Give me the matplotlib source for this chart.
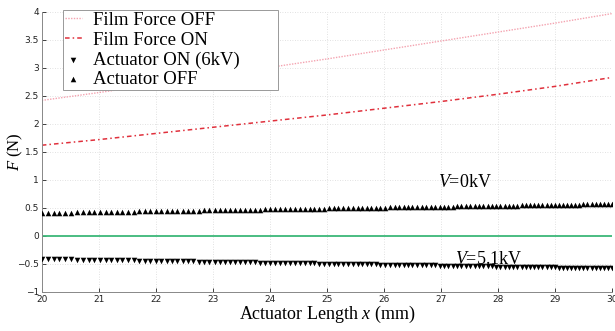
import matplotlib
matplotlib.use("Agg")
import matplotlib.pyplot as plt

# film force lines (N) read at integer lengths (mm)
film_x = [20, 21, 22, 23, 24, 25, 26, 27, 28, 29, 30]
film_off = [2.42, 2.56, 2.71, 2.86, 3.01, 3.16, 3.32, 3.48, 3.64, 3.80, 3.97]
film_on = [1.62, 1.72, 1.83, 1.94, 2.05, 2.16, 2.28, 2.40, 2.53, 2.67, 2.83]

# actuator measurement points (mm)
act_x = [
    20.00, 20.10, 20.21, 20.31, 20.41, 20.52, 20.62, 20.72, 20.82, 20.92,
    21.02, 21.12, 21.22, 21.32, 21.41, 21.51, 21.61, 21.71, 21.81, 21.90,
    22.00, 22.09, 22.19, 22.28, 22.37, 22.47, 22.56, 22.65, 22.75, 22.84,
    22.94, 23.03, 23.12, 23.21, 23.30, 23.39, 23.47, 23.56, 23.65, 23.74,
    23.83, 23.92, 24.01, 24.09, 24.18, 24.27, 24.35, 24.44, 24.53, 24.61,
    24.70, 24.78, 24.87, 24.95, 25.03, 25.12, 25.20, 25.29, 25.37, 25.45,
    25.54, 25.62, 25.70, 25.78, 25.86, 25.94, 26.02, 26.10, 26.19, 26.27,
    26.35, 26.42, 26.50, 26.58, 26.66, 26.74, 26.82, 26.90, 26.98, 27.05,
    27.13, 27.21, 27.28, 27.36, 27.44, 27.51, 27.59, 27.67, 27.74, 27.82,
    27.90, 27.97, 28.04, 28.12, 28.19, 28.27, 28.34, 28.42, 28.49, 28.56,
    28.64, 28.71, 28.78, 28.86, 28.93, 29.00, 29.07, 29.15, 29.22, 29.29,
    29.36, 29.43, 29.50, 29.57, 29.65, 29.72, 29.79, 29.86, 29.93, 30.00,
]
act_off = [
    0.410, 0.412, 0.413, 0.415, 0.417, 0.418, 0.420, 0.422, 0.423, 0.425,
    0.426, 0.428, 0.430, 0.431, 0.433, 0.434, 0.436, 0.437, 0.439, 0.440,
    0.442, 0.443, 0.445, 0.446, 0.448, 0.450, 0.451, 0.452, 0.454, 0.455,
    0.457, 0.458, 0.460, 0.461, 0.463, 0.464, 0.466, 0.467, 0.468, 0.470,
    0.471, 0.473, 0.474, 0.475, 0.477, 0.478, 0.480, 0.481, 0.482, 0.484,
    0.485, 0.486, 0.488, 0.489, 0.490, 0.492, 0.493, 0.495, 0.496, 0.497,
    0.499, 0.500, 0.501, 0.502, 0.504, 0.505, 0.506, 0.508, 0.509, 0.510,
    0.512, 0.513, 0.514, 0.515, 0.517, 0.518, 0.519, 0.520, 0.522, 0.523,
    0.524, 0.525, 0.527, 0.528, 0.529, 0.530, 0.531, 0.533, 0.534, 0.535,
    0.536, 0.538, 0.539, 0.540, 0.541, 0.542, 0.543, 0.545, 0.546, 0.547,
    0.548, 0.549, 0.551, 0.552, 0.553, 0.554, 0.555, 0.556, 0.558, 0.559,
    0.560, 0.561, 0.562, 0.563, 0.564, 0.566, 0.567, 0.568, 0.569, 0.570,
]
act_on = [
    -0.410, -0.412, -0.414, -0.415, -0.417, -0.419, -0.421, -0.422, -0.424, -0.426,
    -0.427, -0.429, -0.431, -0.432, -0.434, -0.436, -0.437, -0.439, -0.441, -0.442,
    -0.444, -0.446, -0.447, -0.449, -0.450, -0.452, -0.454, -0.455, -0.457, -0.458,
    -0.460, -0.462, -0.463, -0.465, -0.466, -0.468, -0.469, -0.471, -0.472, -0.474,
    -0.475, -0.477, -0.478, -0.480, -0.481, -0.483, -0.484, -0.486, -0.487, -0.488,
    -0.490, -0.491, -0.493, -0.494, -0.496, -0.497, -0.498, -0.500, -0.501, -0.503,
    -0.504, -0.506, -0.507, -0.508, -0.510, -0.511, -0.512, -0.514, -0.515, -0.517,
    -0.518, -0.519, -0.521, -0.522, -0.523, -0.525, -0.526, -0.527, -0.529, -0.530,
    -0.531, -0.533, -0.534, -0.535, -0.537, -0.538, -0.539, -0.540, -0.542, -0.543,
    -0.544, -0.546, -0.547, -0.548, -0.549, -0.551, -0.552, -0.553, -0.554, -0.556,
    -0.557, -0.558, -0.559, -0.561, -0.562, -0.563, -0.564, -0.566, -0.567, -0.568,
    -0.569, -0.570, -0.572, -0.573, -0.574, -0.575, -0.576, -0.578, -0.579, -0.580,
]

zero_x = [20, 30]
zero_y = [0, 0]

serif = "Liberation Serif"
plt.rcParams["mathtext.fontset"] = "custom"
plt.rcParams["mathtext.rm"] = serif
plt.rcParams["mathtext.it"] = serif + ":italic"

fig = plt.figure(figsize=(6.15, 3.31), dpi=100)
ax = fig.add_axes([0.068, 0.118, 0.927, 0.846])

ax.plot(film_x, film_off, linestyle=(0, (1, 1)), color="#f4a3b0", lw=1.0,
        label="Film Force OFF")
ax.plot(film_x, film_on, linestyle=(0, (3, 2, 1, 2)), color="#e0303c", lw=1.1,
        label="Film Force ON")
# scatter keeps sub-pixel marker positions (plot snaps them to pixels)
ax.scatter(act_x, act_on, marker="v", s=16, color="black", linewidths=0,
           label="Actuator ON (6kV)", zorder=3)
ax.scatter(act_x, act_off, marker="^", s=16, color="black", linewidths=0,
           label="Actuator OFF", zorder=3)
ax.plot(zero_x, zero_y, color="#3cb878", lw=1.3)

ax.set_xlim(20, 30)
ax.set_ylim(-1, 4)
ax.set_xticks(range(20, 31))
ax.set_yticks([-1, -0.5, 0, 0.5, 1, 1.5, 2, 2.5, 3, 3.5, 4])
ax.set_yticklabels(["\u22121", "\u22120.5", "0", "0.5", "1", "1.5", "2", "2.5",
                    "3", "3.5", "4"])
ax.tick_params(direction="in", labelsize=6.5, length=3, width=0.6,
               colors="#222222", pad=2)
ax.grid(True, linestyle=(0, (1, 2)), color="#d8d8d8", lw=0.6)

for side in ["top", "right"]:
    ax.spines[side].set_visible(False)
for side in ["left", "bottom"]:
    ax.spines[side].set_color("#888888")
    ax.spines[side].set_linewidth(0.7)

ax.set_xlabel("Actuator Length $\\mathit{x}$ (mm)", family=serif, fontsize=13,
              labelpad=0)
ax.set_ylabel("$\\mathit{F}$ (N)", family=serif, fontsize=12)
ax.yaxis.set_label_coords(-0.03, 0.5)

ax.text(26.95, 0.96, "$\\mathit{V}$=0kV", family=serif, fontsize=13,
        va="center")
ax.text(27.25, -0.50, "$\\mathit{V}$=5.1kV", family=serif, fontsize=13,
        va="baseline")

leg = ax.legend(loc="upper left", bbox_to_anchor=(0.0368, 0.5, 0.377, 0.507),
                mode="expand", prop={"family": serif, "size": 13.5},
                fancybox=False, framealpha=1, edgecolor="#999999",
                handlelength=0.9, handletextpad=0.6, borderpad=0.1,
                labelspacing=0.14, borderaxespad=0, scatterpoints=1)
leg.get_frame().set_linewidth(0.7)

fig.savefig("out.png", dpi=100)
